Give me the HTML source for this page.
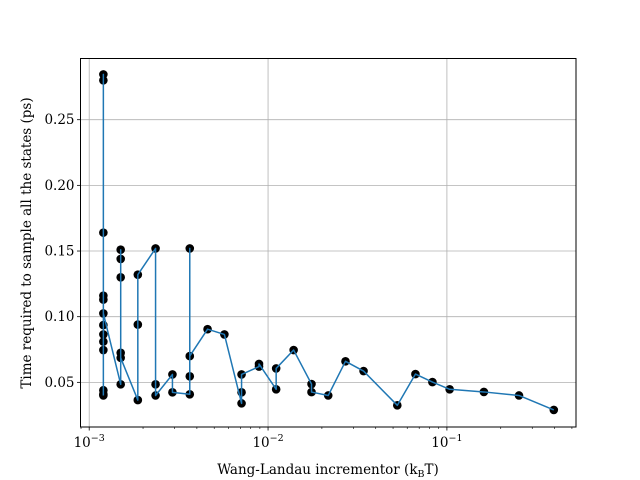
<!DOCTYPE html>
<html><head><meta charset="utf-8"><style>
html,body{margin:0;padding:0;background:#fff;}
svg{display:block;font-family:"DejaVu Serif","Liberation Serif",serif;}
</style></head><body>
<svg id="chart" width="640" height="480" xmlns="http://www.w3.org/2000/svg">
<rect width="640" height="480" fill="#fff"/>
<g id="grid"></g>
<g id="axes"></g>
<g id="series"></g>
<rect x="80.5" y="58.5" width="495.5" height="368.5" fill="none" stroke="#000" stroke-width="1"/>
<text x="328" y="474" text-anchor="middle" font-size="13.5">Wang-Landau incrementor (k<tspan font-size="9.5" dy="3">B</tspan><tspan dy="-3">T)</tspan></text>
<text transform="translate(31,243) rotate(-90)" text-anchor="middle" font-size="13.5">Time required to sample all the states (ps)</text>
</svg>
<script>
const xValues = [0.0012,0.0012,0.0012,0.0012,0.0012,0.0012,0.0012,0.0012,0.0012,0.0012,0.0012,0.0012,0.0012,
0.0015,0.0015,0.0015,0.0015,0.0015,0.0015,
0.00187,0.00187,0.00187,
0.00235,0.00235,0.00235,
0.00292,0.00292,
0.00365,0.00365,0.00365,0.00365,
0.00459,0.0057,
0.00711,0.00711,0.00711,
0.0089,0.0089,
0.0111,0.0111,
0.0139,
0.0175,0.0175,
0.0217,0.0271,0.0342,0.0528,0.0667,0.083,0.1036,0.161,0.253,0.396];
const yValues = [0.040,0.041,0.044,0.2845,0.280,0.164,0.116,0.113,0.0746,0.081,0.0865,0.0936,0.1025,
0.0485,0.151,0.144,0.130,0.0725,0.0687,
0.0365,0.094,0.132,
0.152,0.0485,0.040,
0.056,0.0424,
0.0409,0.152,0.0546,0.070,
0.0905,0.0865,
0.034,0.0424,0.056,
0.062,0.064,
0.0447,0.0606,
0.0746,
0.0487,0.0426,
0.040,0.066,0.0586,0.0325,0.0563,0.0502,0.0447,0.0427,0.040,0.029];
const yTicks = [0.05,0.10,0.15,0.20,0.25];
const yTickLabels = ["0.05","0.10","0.15","0.20","0.25"];
const xDecades = [-3,-2,-1];

const L=80.5,R=576,T=58.5,B=427;
const xmin=Math.log10(0.000894), xmax=Math.log10(0.527);
const ymin=0.016, ymax=0.2966;
const sx=v=>L+(Math.log10(v)-xmin)/(xmax-xmin)*(R-L);
const sy=v=>B-(v-ymin)/(ymax-ymin)*(B-T);
const NS="http://www.w3.org/2000/svg";
function mk(tag,attrs,parent){const e=document.createElementNS(NS,tag);for(const k in attrs)e.setAttribute(k,attrs[k]);parent.appendChild(e);return e;}
const grid=document.getElementById('grid'),axes=document.getElementById('axes'),series=document.getElementById('series');

yTicks.forEach((t,i)=>{
  const y=sy(t);
  const g=mk('line',{x1:L,x2:R,y1:y,y2:y,stroke:'#b0b0b0','stroke-width':0.8},grid);
  
  
  mk('line',{x1:L-3.5,x2:L,y1:y,y2:y,stroke:'#000','stroke-width':0.8},axes);
  const tx=mk('text',{x:L-6,y:y+4.5,'text-anchor':'end','font-size':13.5},axes);
  tx.textContent=yTickLabels[i];
  
  
});
xDecades.forEach(d=>{
  const x=sx(Math.pow(10,d));
  const g=mk('line',{x1:x,x2:x,y1:T,y2:B,stroke:'#b0b0b0','stroke-width':0.8},grid);
  
  
  mk('line',{x1:x,x2:x,y1:B,y2:B+3.5,stroke:'#000','stroke-width':0.8},axes);
  const tx=mk('text',{x:x,y:B+20,'text-anchor':'middle','font-size':13.5},axes);
  
  
  tx.innerHTML='10<tspan font-size="9.5" dy="-6">\u2212'+(-d)+'</tspan>';
});
for(let d=-4;d<=0;d++){for(let m=2;m<=9;m++){const v=m*Math.pow(10,d);const x=sx(v);if(x>L&&x<R)mk('line',{x1:x,x2:x,y1:B,y2:B+2,stroke:'#000','stroke-width':0.6},axes);}}

const pts=xValues.map((v,i)=>sx(v).toFixed(2)+','+sy(yValues[i]).toFixed(2)).join(' ');
const pl=mk('polyline',{points:pts,fill:'none',stroke:'#1f77b4','stroke-width':1.5,'stroke-linejoin':'round'},series);


xValues.forEach((v,i)=>{
  const c=mk('circle',{cx:sx(v),cy:sy(yValues[i]),r:4.3,fill:'#000'},series);
  
  
});
series.appendChild(pl);
</script>
</body></html>
